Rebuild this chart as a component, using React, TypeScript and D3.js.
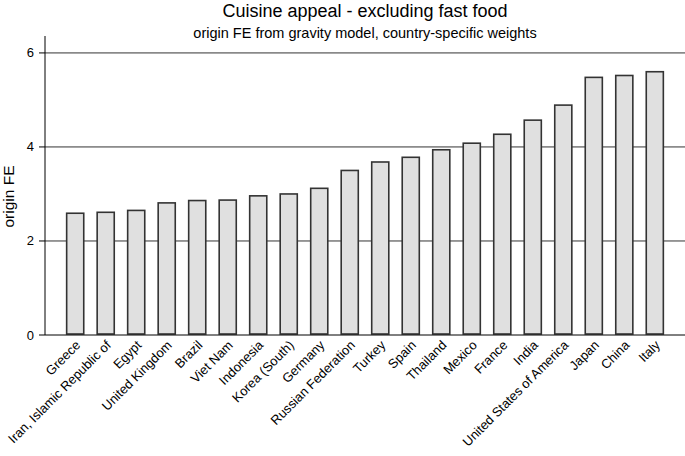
import * as d3 from 'd3';

const WIDTH = 685;
const HEIGHT = 456;
const INK = '#333333';
const BAR_FILL = '#e0e0e0';
const FONT = 'Liberation Sans, Arial, Helvetica, sans-serif';

const countries = [
  'Greece',
  'Iran, Islamic Republic of',
  'Egypt',
  'United Kingdom',
  'Brazil',
  'Viet Nam',
  'Indonesia',
  'Korea (South)',
  'Germany',
  'Russian Federation',
  'Turkey',
  'Spain',
  'Thailand',
  'Mexico',
  'France',
  'India',
  'United States of America',
  'Japan',
  'China',
  'Italy',
];

const originFE = [
  2.59, 2.61, 2.65, 2.81, 2.86, 2.87, 2.96, 3.0, 3.12, 3.5, 3.68, 3.78, 3.94, 4.08, 4.27, 4.57,
  4.89, 5.48, 5.52, 5.6,
];

const yTicks = [0, 2, 4, 6];

const margin = { top: 36, right: 0, bottom: 121, left: 45 };

export default function App() {
  const x = d3
    .scaleBand<string>()
    .domain(countries)
    .range([margin.left, WIDTH - margin.right])
    .paddingInner(0.44)
    .paddingOuter(0.71);
  const y = d3
    .scaleLinear()
    .domain([0, 6.36])
    .range([HEIGHT - margin.bottom, margin.top]);

  const y0 = y(0);
  const plotCenter = (margin.left + WIDTH - margin.right) / 2;

  return (
    <svg
      width={WIDTH}
      height={HEIGHT}
      style={{ position: 'absolute', left: 0, top: 0, background: '#fff' }}
      fontFamily={FONT}
    >
      <text x={plotCenter} y={17} textAnchor="middle" fontSize={18} fill="#000">
        Cuisine appeal - excluding fast food
      </text>
      <text x={plotCenter} y={38} textAnchor="middle" fontSize={14.5} fill="#000">
        origin FE from gravity model, country-specific weights
      </text>

      {/* grid */}
      {yTicks
        .filter((t) => t > 0)
        .map((t) => (
          <line
            key={t}
            x1={margin.left}
            x2={WIDTH}
            y1={y(t)}
            y2={y(t)}
            stroke={INK}
            strokeWidth={1}
          />
        ))}

      {/* bars */}
      {countries.map((c, i) => (
        <rect
          key={c}
          x={x(c)!}
          y={y(originFE[i])}
          width={x.bandwidth()}
          height={y0 - y(originFE[i]) - 1}
          fill={BAR_FILL}
          stroke={INK}
          strokeWidth={1.6}
        />
      ))}

      {/* axes */}
      <line x1={margin.left} x2={WIDTH} y1={y0} y2={y0} stroke="#000" strokeWidth={1} />
      <line x1={margin.left} x2={margin.left} y1={margin.top} y2={y0} stroke="#000" strokeWidth={1} />
      {yTicks.map((t) => (
        <g key={t}>
          <line x1={margin.left - 6} x2={margin.left} y1={y(t)} y2={y(t)} stroke="#000" />
          <text x={margin.left - 11} y={y(t) + 4.5} textAnchor="end" fontSize={13} fill="#000">
            {t}
          </text>
        </g>
      ))}

      {countries.map((c) => {
        const cx = x(c)! + x.bandwidth() / 2;
        return (
          <text
            key={c}
            transform={`translate(${cx + 6},${y0 + 11}) rotate(-45)`}
            textAnchor="end"
            fontSize={13}
            fill="#000"
          >
            {c}
          </text>
        );
      })}

      <text
        transform={`translate(14,${(margin.top + y0) / 2 + 11}) rotate(-90)`}
        textAnchor="middle"
        fontSize={15.5}
        fill="#000"
      >
        origin FE
      </text>
    </svg>
  );
}
